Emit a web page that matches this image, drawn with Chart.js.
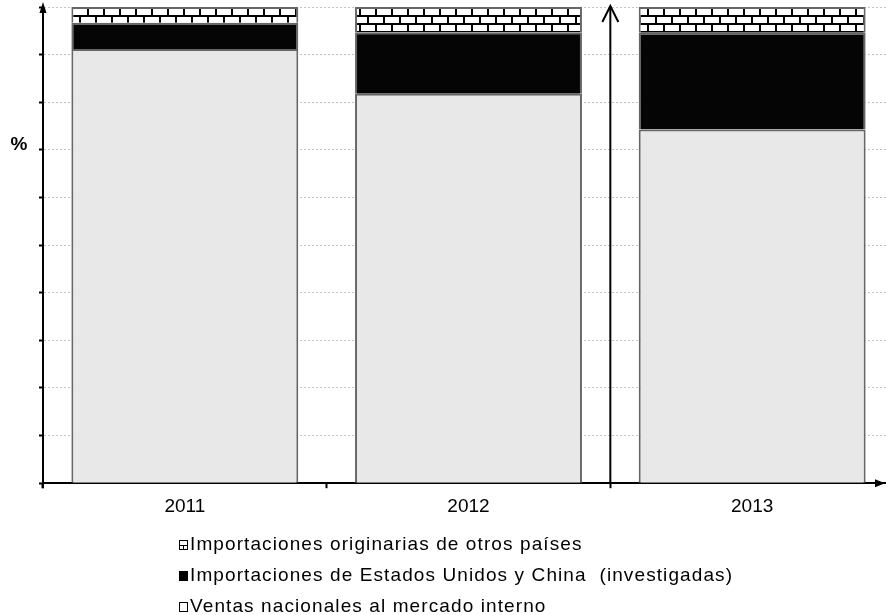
<!DOCTYPE html>
<html>
<head>
<meta charset="utf-8">
<script src="https://cdn.jsdelivr.net/npm/chart.js@4.4.1/dist/chart.umd.min.js"></script>
<style>
  html, body { margin: 0; padding: 0; background: #fff; }
  #wrap { position: relative; width: 886px; height: 615px; overflow: hidden; }
  #chart { position: absolute; left: 0; top: 0; }
  #legend {
    position: absolute; left: 179px; top: 528px;
    font: 19px "Liberation Sans", Arial, sans-serif;
    letter-spacing: 1.1px; color: #000;
  }
  .item { height: 31px; line-height: 31px; white-space: pre; }
  .item canvas { vertical-align: baseline; margin-right: 2px; }
</style>
</head>
<body>
<div id="wrap">
  <canvas id="chart" width="894" height="615"></canvas>
  <div id="legend"></div>
</div>
<script>
// ---------------- DATA ----------------
const years = ["2011", "2012", "2013"];
const ventasNacionales = [91.2, 81.8, 74.3];
const importInvestigadas = [5.5, 12.9, 20.3];
const importOtros = [3.3, 5.3, 5.4];

const labelVentas = "Ventas nacionales al mercado interno";
const labelInvest = "Importaciones de Estados Unidos y China  (investigadas)";
const labelOtros = "Importaciones originarias de otros países";

// ---------------- BRICK PATTERN ----------------
function brickPattern() {
    const c = document.createElement("canvas");
    c.width = 16;
    c.height = 16;
    const g = c.getContext("2d");
    g.fillStyle = "#000";
    g.fillRect(0, 0, 16, 16);
    g.fillStyle = "#fff";
    g.fillRect(1, 1, 14, 6);
    g.fillRect(9, 9, 7, 6);
    g.fillRect(0, 9, 7, 6);
    return g.createPattern(c, "repeat");
}

const ctx = document.getElementById("chart").getContext("2d");
const bricks = brickPattern();

// ---------------- DECORATION (arrows, % label) ----------------
const decor = {
    id: "decor",
    afterDraw(chart) {
        const g = chart.ctx;
        const a = chart.chartArea;
        const x = chart.scales.x;
        g.save();
        g.strokeStyle = "#000";
        g.fillStyle = "#000";
        g.lineWidth = 2;

        // y axis with arrow head
        g.beginPath();
        g.moveTo(a.left, a.top - 5);
        g.lineTo(a.left - 3.5, a.top + 6);
        g.lineTo(a.left + 3.5, a.top + 6);
        g.closePath();
        g.fill();
        g.beginPath();
        g.moveTo(a.left, a.bottom + 5);
        g.lineTo(a.left, a.top);
        g.stroke();

        // x axis arrow head at the visible right edge
        const xr = 885;
        g.beginPath();
        g.moveTo(xr, a.bottom);
        g.lineTo(xr - 10, a.bottom - 4);
        g.lineTo(xr - 10, a.bottom + 4);
        g.closePath();
        g.fill();

        // arrow between 2012 and 2013
        const mid = (x.getPixelForValue(1) + x.getPixelForValue(2)) / 2;
        g.beginPath();
        g.moveTo(mid, a.bottom);
        g.lineTo(mid, a.top - 1);
        g.stroke();
        g.beginPath();
        g.moveTo(mid - 8, a.top + 15);
        g.lineTo(mid, a.top - 1);
        g.lineTo(mid + 8, a.top + 15);
        g.stroke();

        // % label
        g.font = "bold 19px 'Liberation Sans', Arial, sans-serif";
        g.textAlign = "center";
        g.textBaseline = "middle";
        g.fillText("%", 19, chart.scales.y.getPixelForValue(70) - 5);
        g.restore();
    }
};

// ---------------- CHART ----------------
const chart = new Chart(ctx, {
    type: "bar",
    data: {
        labels: years,
        datasets: [
            {
                label: labelVentas,
                data: ventasNacionales,
                backgroundColor: "#e8e8e8",
                borderColor: "#666",
                borderWidth: 2
            },
            {
                label: labelInvest,
                data: importInvestigadas,
                backgroundColor: "#050505",
                borderColor: "#666",
                borderWidth: 2
            },
            {
                label: labelOtros,
                data: importOtros,
                backgroundColor: bricks,
                borderColor: "#666",
                borderWidth: 2
            }
        ]
    },
    options: {
        responsive: false,
        animation: false,
        datasets: { bar: { categoryPercentage: 1, barPercentage: 0.8 } },
        layout: { padding: { left: 39, right: 0, top: 7, bottom: 90 } },
        plugins: { legend: { display: false }, tooltip: { enabled: false } },
        scales: {
            x: {
                stacked: true,
                grid: { drawOnChartArea: false, color: "#000", tickColor: "#000", tickLength: 5, tickWidth: 2 },
                border: { color: "#000", width: 2 },
                ticks: { color: "#000", padding: 7, font: { family: "'Liberation Sans', Arial, sans-serif", size: 19 } }
            },
            y: {
                stacked: true,
                min: 0,
                max: 100,
                ticks: { display: false, stepSize: 10 },
                grid: {
                    color: "#c4c4c4",
                    tickColor: "#000",
                    tickBorderDash: [],
                    tickLength: 4,
                    tickWidth: 2
                },
                border: { color: "#000", width: 2, dash: [2, 2] }
            }
        }
    },
    plugins: [decor]
});

// ---------------- LEGEND ----------------
function swatch(kind) {
    const c = document.createElement("canvas");
    c.width = 9;
    c.height = 10;
    const g = c.getContext("2d");
    g.strokeStyle = "#000";
    g.lineWidth = 1;
    if (kind === "black") {
        g.fillStyle = "#000";
        g.fillRect(0, 0, 9, 10);
    } else {
        g.fillStyle = "#fff";
        g.fillRect(0, 0, 9, 10);
        g.strokeRect(0.5, 0.5, 8, 9);
        if (kind === "bricks") {
            g.beginPath();
            g.moveTo(0, 5.5); g.lineTo(9, 5.5);
            g.moveTo(4.5, 5.5); g.lineTo(4.5, 9);
            g.stroke();
        }
    }
    return c;
}

const legendRows = [
    [labelOtros, "bricks"],
    [labelInvest, "black"],
    [labelVentas, "white"]
];
const legend = document.getElementById("legend");
legendRows.forEach(([text, kind]) => {
    const row = document.createElement("div");
    row.className = "item";
    row.appendChild(swatch(kind));
    row.appendChild(document.createTextNode(text));
    legend.appendChild(row);
});
</script>
</body>
</html>
